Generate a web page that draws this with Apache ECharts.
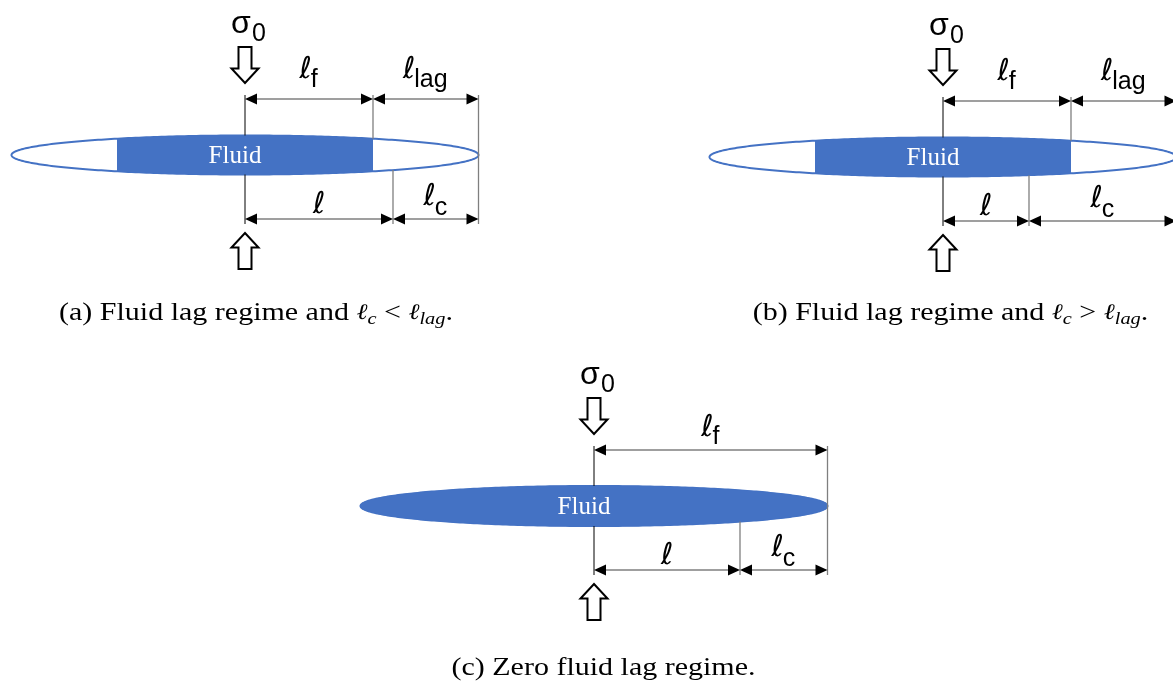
<!DOCTYPE html>
<html><head><meta charset="utf-8">
<script src="https://cdn.jsdelivr.net/npm/echarts@6/dist/echarts.min.js"></script>
<style>html,body{margin:0;padding:0;background:#fff}#chart{width:1173px;height:682px}</style>
</head><body><div id="chart"></div>
<script>
const panels = ['a', 'b', 'c'];
const crackHalfLength = [233.5, 233.5, 233.5];   // a = ℓf + ℓlag = ℓ + ℓc
const crackHalfOpening = [19.5, 19.5, 20];
const fluidLength = [128, 128, 233.5];           // ℓf
const lagLength = [105.5, 105.5, 0];             // ℓlag
const tipLength = [148, 86, 146];                // ℓ
const cohesiveLength = [85.5, 147.5, 87.5];      // ℓc
const captions = [
  '{n|(a) Fluid lag regime and }{m|ℓ}{s|c}{n| < }{m|ℓ}{s|lag}{n|.}',
  '{n|(b) Fluid lag regime and }{m|ℓ}{s|c}{n| > }{m|ℓ}{s|lag}{n|.}',
  '{n|(c) Zero fluid lag regime.}'
];
const fluidWord = 'Fluid';
const loadLabel = ['σ', '0'];

// ---------- layout ----------
const layout = {
  origin: [[245, 155], [943, 157], [594, 506]],
  topRow: -56,
  bottomRow: 64,
  topLift: [[20, 11], [20, 11], [13, 5]],
  captionPos: [[256, 313.5], [950.5, 313.5], [603.5, 668.5]],
  captionScaleX: 1.2
};
const BLUE = '#4472C4';
const GREY = '#7f7f7f';
const MAIN_SIZE = 30, SUB_SIZE = 25;
const MAIN_FONT = 'italic ' + MAIN_SIZE + 'px "DejaVu Sans"';
const SUB_FONT = SUB_SIZE + 'px "Liberation Sans"';
const ASC = 0.8; // em-top to baseline

const mctx = document.createElement('canvas').getContext('2d');
function textWidth(t, font) { mctx.font = font; return mctx.measureText(t).width; }

function renderItem(params, api) {
  const i = api.value(0);
  const [ox, oy] = layout.origin[i];
  const a = crackHalfLength[i], b = crackHalfOpening[i];
  const f = fluidLength[i], lag = lagLength[i];
  const l = tipLength[i], lc = cohesiveLength[i];
  const P = (dx, dy) => api.coord([ox + dx, oy + dy]);
  const half = dx => b * Math.sqrt(Math.max(0, 1 - (dx / a) * (dx / a)));
  const top = layout.topRow, bot = layout.bottomRow;
  const ch = [];

  // crack outline and fluid body
  const N = 360;
  const outline = [], fluid = [];
  for (let k = 0; k <= N; k++) {
    const t = Math.PI * 2 * k / N;
    const x = a * Math.cos(t), y = b * Math.sin(t);
    outline.push(P(x, y));
    fluid.push(P(Math.max(-f, Math.min(f, x)), y));
  }
  ch.push({type: 'polygon', shape: {points: outline}, style: {fill: '#fff', stroke: BLUE, lineWidth: 2}});
  ch.push({type: 'polygon', shape: {points: fluid}, style: {fill: BLUE, stroke: lag > 0 ? null : BLUE, lineWidth: 1}});

  const line = (p1, p2, color, w) => ({type: 'line', shape: {x1: p1[0], y1: p1[1], x2: p2[0], y2: p2[1]}, style: {stroke: color, lineWidth: w}});

  // extension lines
  ch.push(line(P(0, top - 4), P(0, -b), '#000', 1));
  ch.push(line(P(0, b), P(0, bot + 5), '#000', 1));
  if (lag > 0) ch.push(line(P(f, top - 4), P(f, -half(f)), GREY, 1.3));
  ch.push(line(P(l, half(l)), P(l, bot + 5), GREY, 1.3));
  ch.push(line(P(a, top - 4), P(a, bot + 5), GREY, 1.3));

  // dimension arrows
  function dim(x1, x2, y) {
    ch.push(line(P(x1 + 2, y), P(x2 - 2, y), GREY, 1.6));
    const L = 12, H = 5.5;
    const p1 = P(x1, y), p2 = P(x2, y);
    ch.push({type: 'polygon', shape: {points: [p1, [p1[0] + L, p1[1] - H], [p1[0] + L, p1[1] + H]]}, style: {fill: '#000'}});
    ch.push({type: 'polygon', shape: {points: [p2, [p2[0] - L, p2[1] - H], [p2[0] - L, p2[1] + H]]}, style: {fill: '#000'}});
  }
  function label(x1, x2, y, sub, liftMain, liftSub) {
    const c = P((x1 + x2) / 2, y);
    const wm = textWidth('ℓ', MAIN_FONT), ws = sub ? textWidth(sub, SUB_FONT) : 0;
    const split = c[0] - (ws - wm) / 2;
    ch.push({type: 'text', x: split, y: c[1] - liftMain - ASC * MAIN_SIZE,
      style: {text: 'ℓ', font: MAIN_FONT, fill: '#000', align: 'right', verticalAlign: 'top'}});
    if (sub) ch.push({type: 'text', x: split - 1, y: c[1] - liftSub - ASC * SUB_SIZE,
      style: {text: sub, font: SUB_FONT, fill: '#000', align: 'left', verticalAlign: 'top'}});
  }
  const [tl, ts] = layout.topLift[i];
  if (lag > 0) {
    dim(0, f, top); dim(f, a, top);
    label(0, f, top, 'f', tl, ts);
    label(f, a, top, 'lag', tl, ts);
  } else {
    dim(0, a, top);
    label(0, a, top, 'f', tl, ts);
  }
  dim(0, l, bot); dim(l, a, bot);
  label(0, l, bot, '', 5, 0);
  label(l, a, bot, 'c', 13, 3);

  // hollow load arrows
  function hollow(tipY, dir) {
    const sw = 6.5, hw = 13.5, hl = 14.5, len = 36;
    const pts = [[0, 0], [hw, -hl], [sw, -hl], [sw, -len], [-sw, -len], [-sw, -hl], [-hw, -hl]]
      .map(([x, y]) => P(x, tipY + y * dir));
    ch.push({type: 'polygon', shape: {points: pts}, style: {fill: '#fff', stroke: '#000', lineWidth: 2}});
  }
  hollow(-72, 1);
  hollow(78, -1);

  // σ0
  const s = P(-14, -121);
  ch.push({type: 'text', x: s[0], y: s[1] - ASC * 32, style: {text: loadLabel[0], font: '32px "Liberation Sans"', fill: '#000', align: 'left', verticalAlign: 'top'}});
  const s0 = P(7, -113);
  ch.push({type: 'text', x: s0[0], y: s0[1] - ASC * 25, style: {text: loadLabel[1], font: '25px "Liberation Sans"', fill: '#000', align: 'left', verticalAlign: 'top'}});

  // Fluid word
  const fw = P(-10, 1);
  ch.push({type: 'text', x: fw[0], y: fw[1], style: {text: fluidWord, font: '25px "Liberation Serif"', fill: '#fff', align: 'center', verticalAlign: 'middle'}});

  // caption
  const cp = api.coord(layout.captionPos[i]);
  ch.push({type: 'text', x: cp[0], y: cp[1], scaleX: layout.captionScaleX, style: {
    text: captions[i], align: 'center', verticalAlign: 'middle',
    rich: {
      n: {fontFamily: 'Liberation Serif', fontSize: 25, fill: '#000', lineHeight: 30},
      m: {fontFamily: 'DejaVu Serif', fontStyle: 'italic', fontSize: 22, fill: '#000', lineHeight: 30},
      s: {fontFamily: 'Liberation Serif', fontStyle: 'italic', fontSize: 17, fill: '#000', lineHeight: 18, verticalAlign: 'bottom'}
    }
  }});

  return {type: 'group', children: ch};
}

const chart = echarts.init(document.getElementById('chart'), null, {renderer: 'canvas'});
chart.setOption({
  animation: false,
  backgroundColor: '#fff',
  grid: {left: 0, right: 0, top: 0, bottom: 0},
  xAxis: {type: 'value', min: 0, max: 1173, show: false},
  yAxis: {type: 'value', min: 0, max: 682, inverse: true, show: false},
  series: [{
    type: 'custom', coordinateSystem: 'cartesian2d', silent: true, clip: false,
    data: panels.map((p, i) => [i, 0]),
    renderItem: renderItem
  }]
});
</script></body></html>
